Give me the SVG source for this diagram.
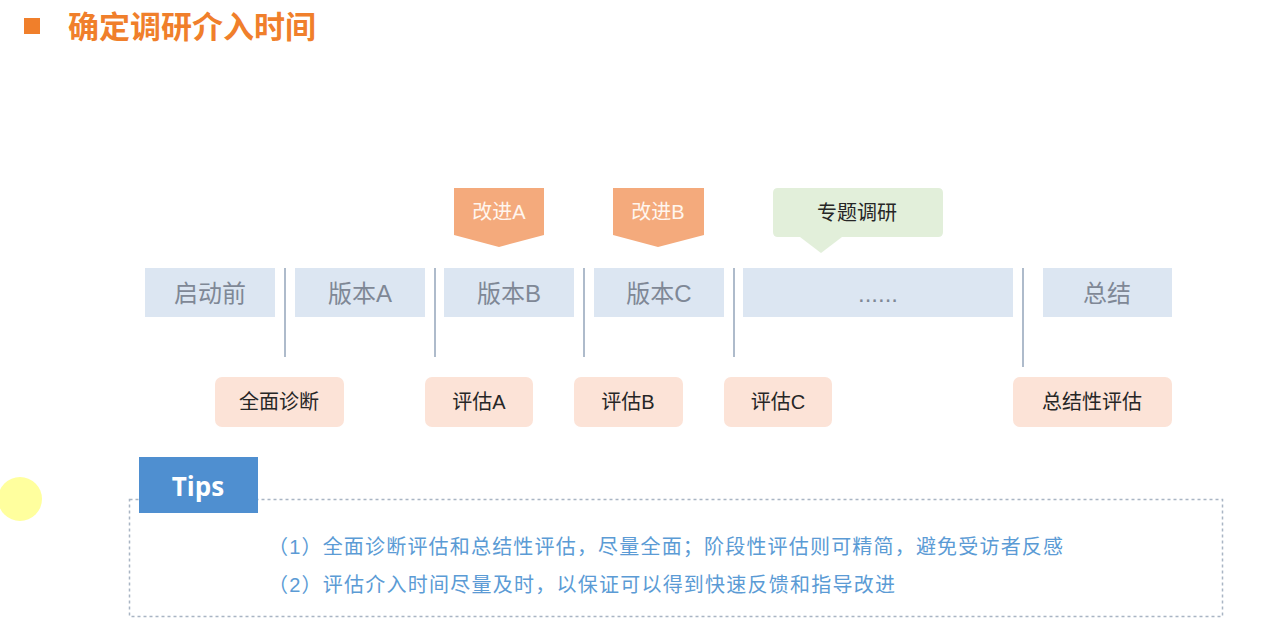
<svg xmlns="http://www.w3.org/2000/svg" width="1270" height="638" viewBox="0 0 1270 638">
<style>
.cjk{font-family:"Liberation Sans","Noto Sans CJK SC",sans-serif}
.phase{fill:#DCE6F2}
.phase-t{font-size:24px;fill:#7F8896;text-anchor:middle;dominant-baseline:central}
.eval{fill:#FCE3D7}
.eval-t{font-size:20px;fill:#262626;text-anchor:middle;dominant-baseline:central}
.imp{fill:#F4AA7C}
.imp-t{font-size:20px;fill:#FFF6EE;text-anchor:middle;dominant-baseline:central}
.sep{stroke:#AEBBCB;stroke-width:2}
.tip-t{font-size:20px;fill:#5B9BD5}
</style>
<rect width="1270" height="638" fill="#FFFFFF"/>
<circle cx="20" cy="499" r="22" fill="#FFFF9E"/>
<g id="title">
<rect x="24" y="18" width="16" height="16" fill="#F07F2B"/>
<text x="68" y="38" class="cjk" font-size="31" font-weight="bold" fill="#F07F2B">确定调研介入时间</text>
</g>
<g id="connectors">
<line class="sep" x1="285" y1="268" x2="285" y2="357"/>
<line class="sep" x1="435" y1="268" x2="435" y2="357"/>
<line class="sep" x1="584" y1="268" x2="584" y2="357"/>
<line class="sep" x1="734" y1="268" x2="734" y2="357"/>
<line class="sep" x1="1023" y1="268" x2="1023" y2="367"/>
</g>
<g id="phase-start"><rect class="phase" x="145" y="268" width="130" height="49"/><text class="cjk phase-t" x="210" y="293">启动前</text></g>
<g id="phase-a"><rect class="phase" x="295" y="268" width="130" height="49"/><text class="cjk phase-t" x="360" y="293">版本A</text></g>
<g id="phase-b"><rect class="phase" x="444" y="268" width="130" height="49"/><text class="cjk phase-t" x="509" y="293">版本B</text></g>
<g id="phase-c"><rect class="phase" x="594" y="268" width="130" height="49"/><text class="cjk phase-t" x="659" y="293">版本C</text></g>
<g id="phase-more"><rect class="phase" x="743" y="268" width="270" height="49"/><text class="cjk phase-t" x="878" y="293">......</text></g>
<g id="phase-end"><rect class="phase" x="1043" y="268" width="129" height="49"/><text class="cjk phase-t" x="1107" y="293">总结</text></g>
<g id="improve-a"><polygon class="imp" points="454,188 544,188 544,235 499,247 454,235"/><text class="cjk imp-t" x="499" y="212">改进A</text></g>
<g id="improve-b"><polygon class="imp" points="613,188 704,188 704,235 658,247 613,235"/><text class="cjk imp-t" x="658" y="212">改进B</text></g>
<g id="topic"><path d="M778,188 H938 Q943,188 943,193 V232 Q943,237 938,237 H842 L821,253 L800,237 H778 Q773,237 773,232 V193 Q773,188 778,188 Z" fill="#E2EFDA"/><text class="cjk" x="857" y="213" font-size="20" fill="#262626" text-anchor="middle" dominant-baseline="central">专题调研</text></g>
<g id="eval-full"><rect class="eval" x="215" y="377" width="129" height="50" rx="7"/><text class="cjk eval-t" x="279" y="402">全面诊断</text></g>
<g id="eval-a"><rect class="eval" x="425" y="377" width="108" height="50" rx="7"/><text class="cjk eval-t" x="479" y="402">评估A</text></g>
<g id="eval-b"><rect class="eval" x="574" y="377" width="109" height="50" rx="7"/><text class="cjk eval-t" x="628" y="402">评估B</text></g>
<g id="eval-c"><rect class="eval" x="724" y="377" width="108" height="50" rx="7"/><text class="cjk eval-t" x="778" y="402">评估C</text></g>
<g id="eval-sum"><rect class="eval" x="1013" y="377" width="159" height="50" rx="7"/><text class="cjk eval-t" x="1092" y="402">总结性评估</text></g>
<g id="tips">
<rect x="129.5" y="499.5" width="1093" height="117" fill="none" stroke="#A9B5C4" stroke-width="1.5" stroke-dasharray="3,3"/>
<rect x="139" y="457" width="119" height="56" fill="#4F8FD0"/>
<text x="198" y="486" font-family="'Open Sans','Liberation Sans',sans-serif" font-size="26" font-weight="bold" fill="#FFFFFF" text-anchor="middle" dominant-baseline="central">Tips</text>
<text class="cjk tip-t" x="268" y="554" textLength="795" lengthAdjust="spacing">（1）全面诊断评估和总结性评估，尽量全面；阶段性评估则可精简，避免受访者反感</text>
<text class="cjk tip-t" x="268" y="592" textLength="627" lengthAdjust="spacing">（2）评估介入时间尽量及时，以保证可以得到快速反馈和指导改进</text>
</g>
</svg>
